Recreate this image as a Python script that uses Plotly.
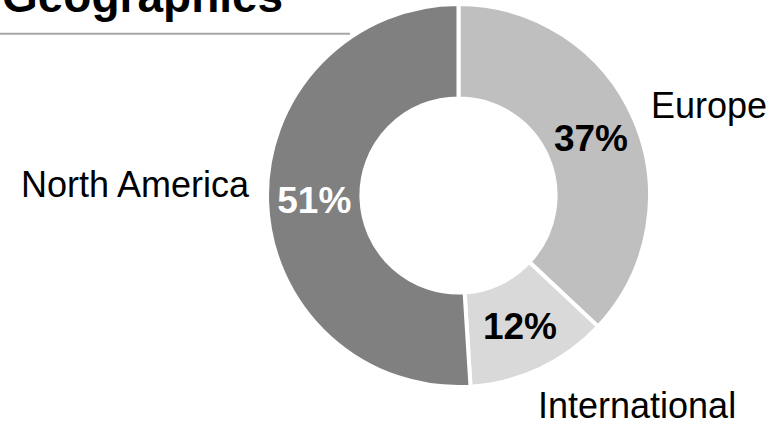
import plotly.graph_objects as go

# ---- data ----
regions = ["Europe", "International", "North America"]
shares = [37, 12, 51]
slice_colors = ["#bfbfbf", "#d9d9d9", "#808080"]
pct_text_colors = ["#000000", "#000000", "#ffffff"]
title_text = "Geographies"

W, H = 782, 422
FONT = "Liberation Sans"

fig = go.Figure()
fig.add_trace(go.Pie(
    labels=regions,
    values=shares,
    sort=False,
    direction="clockwise",
    rotation=0,
    hole=0.507,
    marker=dict(colors=slice_colors, line=dict(color="#ffffff", width=4)),
    texttemplate="%{value}%",
    textposition="inside",
    insidetextorientation="horizontal",
    textfont=dict(family=FONT, size=37, color=pct_text_colors, weight="bold"),
    hoverinfo="label+percent",
    showlegend=False,
    domain=dict(x=[267 / W, 650 / W], y=[(H - 387) / H, (H - 4) / H]),
))

# outside category labels
label_pos = {
    "Europe": (709 / W, 0.750),
    "North America": (135.7 / W, 0.5635),
    "International": (636.5 / W, 0.0384),
}
for name in regions:
    x, y = label_pos[name]
    fig.add_annotation(
        x=x, y=y, xref="paper", yref="paper",
        text=name, showarrow=False, xanchor="center", yanchor="middle",
        font=dict(family=FONT, size=36, color="#000000"),
    )

# title
fig.add_annotation(
    x=0, y=1.009, xref="paper", yref="paper",
    text=f"<b>{title_text}</b>", showarrow=False, xanchor="left", yanchor="middle",
    font=dict(family=FONT, size=46, color="#000000"),
)
# rule under title
fig.add_shape(
    type="line", xref="paper", yref="paper",
    x0=0, x1=350 / W, y0=(H - 33.7) / H, y1=(H - 33.7) / H,
    line=dict(color="#a6a6a6", width=2),
)

fig.update_layout(
    width=W, height=H,
    margin=dict(l=0, r=0, t=0, b=0),
    paper_bgcolor="#ffffff",
    plot_bgcolor="#ffffff",
    font=dict(family=FONT),
)

fig.write_html(
    "out.html",
    config={"displayModeBar": False},
    post_script="document.body.style.margin='0';document.body.style.overflow='hidden';",
)
